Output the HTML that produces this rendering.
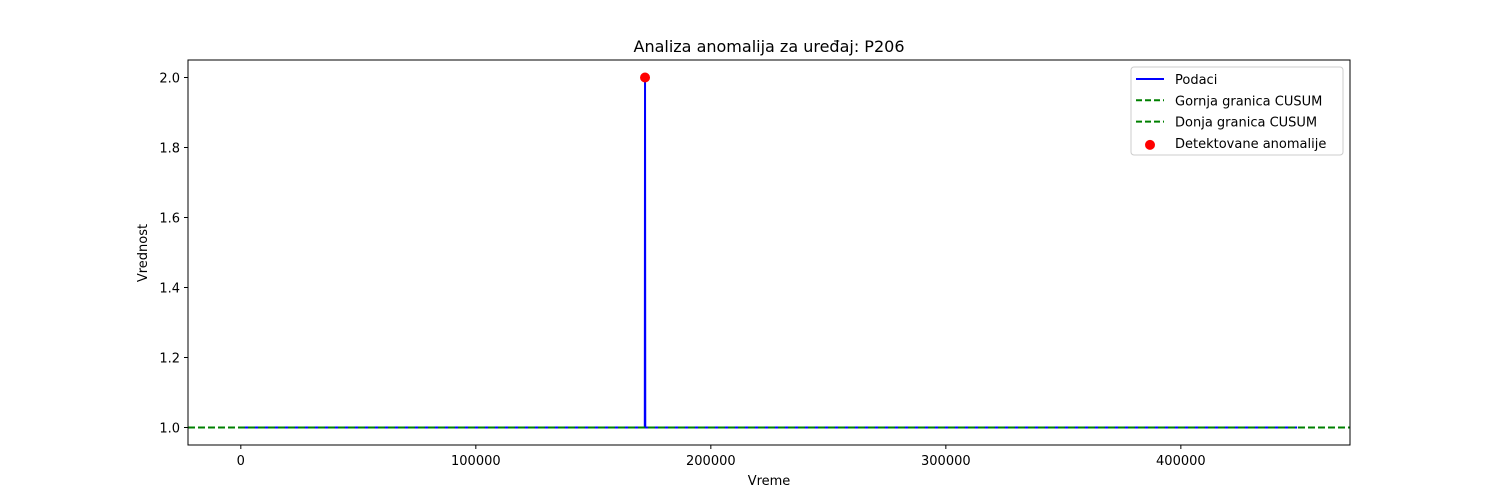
<!DOCTYPE html>
<html><head><meta charset="utf-8"><style>
body{margin:0;background:#fff;}
svg{display:block;font-family:"DejaVu Sans","Liberation Sans",sans-serif;}
</style></head><body>
<svg id="chart" width="1500" height="500"></svg>
<script>
const times=[0,171900,172000,172100,449500];
const values=[1,1,2,1,1];
const anomalyTimes=[172000];
const anomalyValues=[2];
const upperLimit=[1];
const lowerLimit=[1];
const xTicks=[0,100000,200000,300000,400000];
const yTicks=[1.0,1.2,1.4,1.6,1.8,2.0];
const L=188,R=1350,T=60,B=445;
const xmin=-22475,xmax=471975,ymin=0.95,ymax=2.05;
const X=v=>L+(v-xmin)/(xmax-xmin)*(R-L);
const Y=v=>B-(v-ymin)/(ymax-ymin)*(B-T);
const svg=document.getElementById('chart');
const NS='http://www.w3.org/2000/svg';
function mk(tag,attrs,parent){const e=document.createElementNS(NS,tag);for(const k in attrs)e.setAttribute(k,attrs[k]);(parent||svg).appendChild(e);return e;}
let t=mk('text',{x:(L+R)/2,y:52,'text-anchor':'middle','font-size':16});t.textContent='Analiza anomalija za uređaj: P206';


// data line
let pts=times.map((v,i)=>X(v)+','+Y(values[i])).join(' ');
let pl=mk('polyline',{points:pts,fill:'none',stroke:'#0000ff','stroke-width':2});


upperLimit.forEach(v=>{let l=mk('line',{x1:L,x2:R,y1:Y(v),y2:Y(v),stroke:'#008000','stroke-width':2,'stroke-dasharray':'7,3'});

});
lowerLimit.forEach(v=>{let l=mk('line',{x1:L,x2:R,y1:Y(v),y2:Y(v),stroke:'#008000','stroke-width':2,'stroke-dasharray':'7,3'});

});
anomalyTimes.forEach((v,i)=>{let c=mk('circle',{cx:X(v),cy:Y(anomalyValues[i]),r:5,fill:'#ff0000'});

});
let fr=mk('rect',{x:L,y:T,width:R-L,height:B-T,fill:'none',stroke:'#000','stroke-width':1});


xTicks.forEach(v=>{mk('line',{x1:X(v),x2:X(v),y1:B,y2:B+4,stroke:'#000'});
let tx=mk('text',{x:X(v),y:B+20,'text-anchor':'middle','font-size':13});tx.textContent=v;

});
yTicks.forEach(v=>{mk('line',{x1:L-4,x2:L,y1:Y(v),y2:Y(v),stroke:'#000'});
let tx=mk('text',{x:L-8,y:Y(v)+5,'text-anchor':'end','font-size':13});tx.textContent=v.toFixed(1);

});
let xl=mk('text',{x:(L+R)/2,y:485,'text-anchor':'middle','font-size':13});xl.textContent='Vreme';


let yl=mk('text',{x:147,y:253,'text-anchor':'middle','font-size':13,transform:'rotate(-90 147 253)'});yl.textContent='Vrednost';


// legend
const lg=mk('g',{});


mk('rect',{x:1131,y:67,width:212,height:88,rx:3,fill:'#fff',stroke:'#ccc'},lg);
const items=[['Podaci','line'],['Gornja granica CUSUM','dash'],['Donja granica CUSUM','dash'],['Detektovane anomalije','dot']];
items.forEach((it,i)=>{const y=79+i*21.3;
const g=mk('g',{},lg);


if(it[1]==='line')mk('line',{x1:1136,x2:1164,y1:y,y2:y,stroke:'#0000ff','stroke-width':2},g);
else if(it[1]==='dash')mk('line',{x1:1136,x2:1164,y1:y,y2:y,stroke:'#008000','stroke-width':2,'stroke-dasharray':'6,3'},g);
else mk('circle',{cx:1150,cy:y+2,r:5,fill:'#ff0000'},g);
const tx=mk('text',{x:1175,y:y+5,'font-size':13},g);tx.textContent=it[0];});
</script>
</body></html>
